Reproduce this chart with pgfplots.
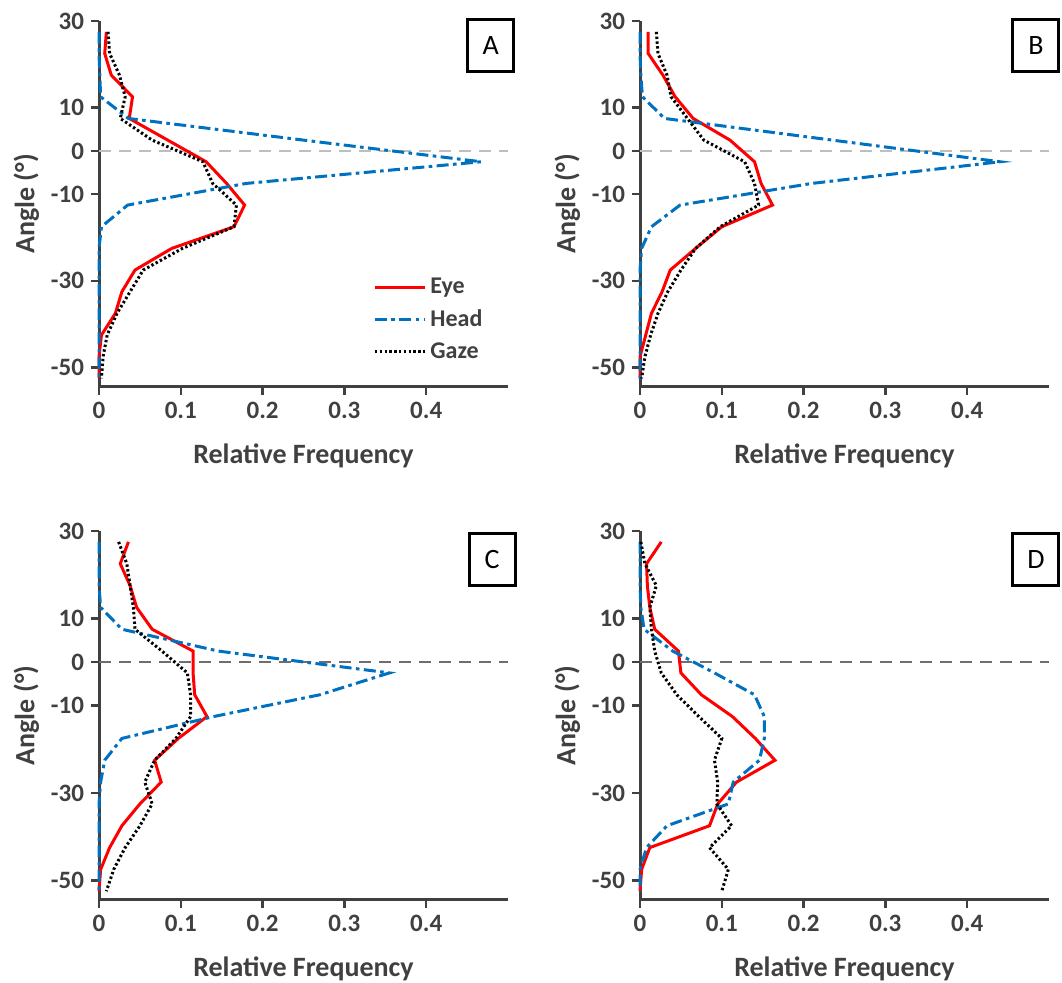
\documentclass[border=0pt]{standalone}
\usepackage{fontspec}
\setmainfont{Carlito}
\usepackage{pgfplots}
\usepackage{pgfplotstable}
\pgfplotsset{compat=1.18}
\definecolor{eyered}{RGB}{255,0,0}
\definecolor{headblue}{RGB}{0,112,192}
\definecolor{axgray}{RGB}{64,64,64}
\definecolor{zlight}{RGB}{190,190,190}
\definecolor{zdark}{RGB}{110,110,110}

\pgfplotstableread{
angle eye head gaze
27.5 0.009 0.000 0.011
22.5 0.007 0.000 0.013
17.5 0.015 0.001 0.025
12.5 0.041 0.002 0.032
7.5 0.037 0.036 0.026
2.5 0.084 0.250 0.065
-2.5 0.131 0.467 0.127
-7.5 0.156 0.180 0.139
-12.5 0.178 0.035 0.168
-17.5 0.165 0.003 0.165
-22.5 0.089 0.000 0.102
-27.5 0.044 0.000 0.054
-32.5 0.028 0.000 0.038
-37.5 0.020 0.000 0.022
-42.5 0.003 0.000 0.010
-47.5 0.000 0.000 0.005
-52.5 0.000 0.000 0.003
}\dataA

\pgfplotstableread{
angle eye head gaze
27.5 0.010 0.000 0.020
22.5 0.010 0.000 0.022
17.5 0.028 0.001 0.033
12.5 0.043 0.003 0.038
7.5 0.065 0.030 0.058
2.5 0.110 0.235 0.078
-2.5 0.140 0.440 0.128
-7.5 0.148 0.210 0.140
-12.5 0.162 0.049 0.145
-17.5 0.100 0.014 0.098
-22.5 0.068 0.002 0.068
-27.5 0.037 0.000 0.050
-32.5 0.027 0.000 0.034
-37.5 0.014 0.000 0.022
-42.5 0.007 0.000 0.013
-47.5 0.000 0.000 0.006
-52.5 0.000 0.000 0.002
}\dataB

\pgfplotstableread{
angle eye head gaze
27.5 0.036 0.000 0.024
22.5 0.026 0.000 0.034
17.5 0.038 0.000 0.038
12.5 0.046 0.002 0.042
7.5 0.065 0.028 0.044
2.5 0.115 0.146 0.077
-2.5 0.115 0.355 0.108
-7.5 0.117 0.270 0.112
-12.5 0.132 0.140 0.112
-17.5 0.097 0.028 0.094
-22.5 0.068 0.007 0.068
-27.5 0.076 0.002 0.056
-32.5 0.050 0.000 0.065
-37.5 0.028 0.000 0.050
-42.5 0.013 0.000 0.032
-47.5 0.002 0.000 0.018
-52.5 0.000 0.000 0.009
}\dataC

\pgfplotstableread{
angle eye head gaze
27.5 0.026 0.000 0.001
22.5 0.008 0.000 0.006
17.5 0.009 0.000 0.020
12.5 0.012 0.001 0.012
7.5 0.018 0.005 0.014
2.5 0.047 0.040 0.018
-2.5 0.050 0.091 0.026
-7.5 0.075 0.140 0.045
-12.5 0.113 0.152 0.072
-17.5 0.141 0.152 0.100
-22.5 0.165 0.146 0.091
-27.5 0.118 0.114 0.095
-32.5 0.095 0.108 0.094
-37.5 0.085 0.033 0.112
-42.5 0.012 0.008 0.085
-47.5 0.002 0.000 0.108
-52.5 0.000 0.000 0.100
}\dataD

\tikzset{
  eyeline/.style={eyered, line width=1.5pt},
  headline/.style={headblue, line width=1.5pt, dash pattern=on 6pt off 2.2pt on 1.8pt off 2.2pt},
  gazeline/.style={black, line width=1.5pt, dash pattern=on 1.2pt off 1.2pt},
  panellabel/.style={draw=black, line width=1.5pt, minimum width=23pt, minimum height=26pt, inner sep=0pt, font=\fontsize{14}{16}\selectfont},
}

\pgfplotsset{
  panel/.style={
    scale only axis, width=204.5pt,
    xmin=0, xmax=0.5, ymin=-54.5, ymax=30,
    axis x line*=bottom, axis y line*=left,
    axis line style={axgray, line width=1.5pt},
    xtick={0,0.1,0.2,0.3,0.4}, xticklabels={0,0.1,0.2,0.3,0.4},
    ytick={-50,-30,-10,0,10,30}, yticklabels={-50,-30,-10,0,10,30},
    tick align=outside, major tick length=4pt,
    tick style={axgray, line width=1.2pt},
    ticklabel style={font=\fontsize{12.5}{14}\selectfont\bfseries, text=axgray},
    xlabel={Relative Frequency}, ylabel={Angle (°)},
    label style={font=\fontsize{14}{16}\selectfont\bfseries, text=axgray},
    xlabel style={yshift=-5.5pt},
    ylabel style={yshift=-1pt},
    clip=false, anchor=north west,
  },
}

\begin{document}
\begin{tikzpicture}
\useasboundingbox (0,0) rectangle (531pt,491pt);

% Panel A
\begin{axis}[panel, height=183pt, at={(49.5pt,480.5pt)},
  legend style={at={(rel axis cs:0.67,0.31)}, anchor=north west, draw=none, fill=none,
    font=\fontsize{12}{14}\selectfont\bfseries, text=axgray, row sep=2.5pt, inner sep=0pt},
  legend cell align=left,
  legend image code/.code={\draw[#1] (0pt,0pt) -- (25pt,0pt);}]
\addplot[zlight, line width=1pt, dash pattern=on 6pt off 4pt, forget plot] coordinates {(0,0) (0.5,0)};
\addplot[eyeline, no markers] table[x=eye, y=angle] {\dataA};
\addplot[headline, no markers] table[x=head, y=angle] {\dataA};
\addplot[gazeline, no markers] table[x=gaze, y=angle] {\dataA};
\legend{Eye, Head, Gaze}
\node[panellabel] at (rel axis cs:0.958,0.933) {A};
\end{axis}

% Panel B
\begin{axis}[panel, height=183pt, at={(320pt,480.5pt)}]
\addplot[zlight, line width=1pt, dash pattern=on 6pt off 4pt] coordinates {(0,0) (0.5,0)};
\addplot[eyeline, no markers] table[x=eye, y=angle] {\dataB};
\addplot[headline, no markers] table[x=head, y=angle] {\dataB};
\addplot[gazeline, no markers] table[x=gaze, y=angle] {\dataB};
\node[panellabel] at (rel axis cs:0.968,0.933) {B};
\end{axis}

% Panel C
\begin{axis}[panel, height=184.5pt, at={(49.5pt,225.5pt)}]
\addplot[zdark, line width=1pt, dash pattern=on 6pt off 4pt] coordinates {(0,0) (0.5,0)};
\addplot[eyeline, no markers] table[x=eye, y=angle] {\dataC};
\addplot[headline, no markers] table[x=head, y=angle] {\dataC};
\addplot[gazeline, no markers] table[x=gaze, y=angle] {\dataC};
\node[panellabel] at (rel axis cs:0.961,0.924) {C};
\end{axis}

% Panel D
\begin{axis}[panel, height=184.5pt, at={(320pt,225.5pt)}]
\addplot[zdark, line width=1pt, dash pattern=on 6pt off 4pt] coordinates {(0,0) (0.5,0)};
\addplot[eyeline, no markers] table[x=eye, y=angle] {\dataD};
\addplot[headline, no markers] table[x=head, y=angle] {\dataD};
\addplot[gazeline, no markers] table[x=gaze, y=angle] {\dataD};
\node[panellabel] at (rel axis cs:0.968,0.924) {D};
\end{axis}
\end{tikzpicture}
\end{document}
